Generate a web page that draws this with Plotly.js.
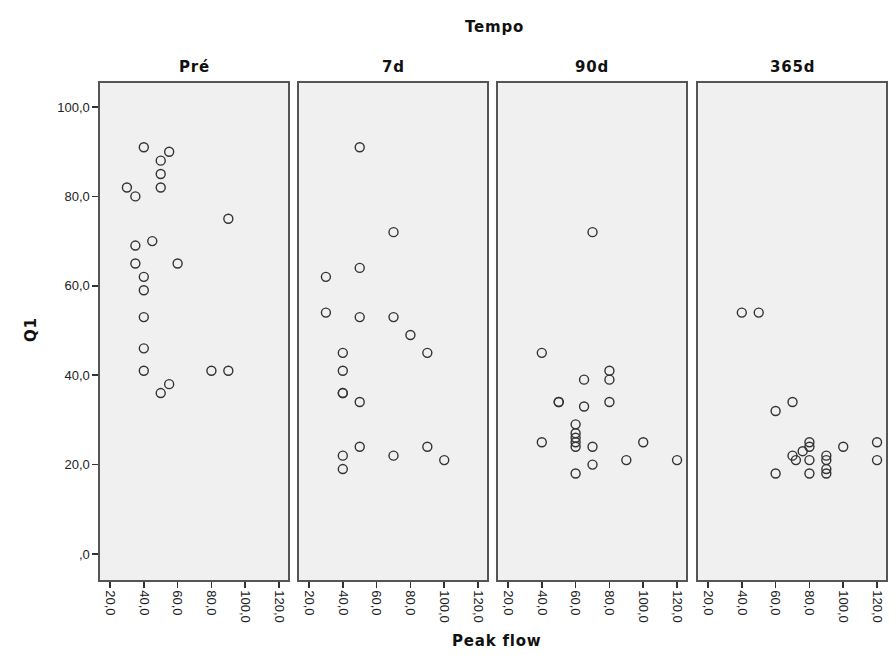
<!DOCTYPE html>
<html>
<head>
<meta charset="utf-8">
<script src="https://cdn.plot.ly/plotly-3.0.1.min.js"></script>
<style>
html,body{margin:0;padding:0;background:#fff;}
#chart{width:896px;height:655px;}
.annotation-text{letter-spacing:0.8px;}
</style>
</head>
<body>
<div id="chart"></div>
<script>
// Panel categories
var panels = ["Pré", "7d", "90d", "365d"];

// Peak flow (x) and Q1 (y) per panel
var pre_x = [40,55,50,50,50,30,35,90,45,35,35,60,40,40,40,40,40,80,90,55,50];
var pre_y = [91,90,88,85,82,82,80,75,70,69,65,65,62,59,53,46,41,41,41,38,36];

var d7_x = [50,70,50,30,30,50,70,80,40,90,40,40,40,50,50,90,40,70,100,40];
var d7_y = [91,72,64,62,54,53,53,49,45,45,41,36,36,34,24,24,22,22,21,19];

var d90_x = [70,40,80,65,80,50,50,65,80,60,60,60,60,60,40,70,100,90,120,70,60];
var d90_y = [72,45,41,39,39,34,34,33,34,29,27,26,25,24,25,24,25,21,21,20,18];

var d365_x = [40,50,70,60,80,80,80,80,76,70,72,90,90,90,90,100,120,120,60];
var d365_y = [54,54,34,32,25,24,21,18,23,22,21,22,21,19,18,24,25,21,18];

// Tick labels
var xTickVals = [20,40,60,80,100,120];
var xTickText = ["20,0","40,0","60,0","80,0","100,0","120,0"];
var yTickVals = [0,20,40,60,80,100];
var yTickText = [",0","20,0","40,0","60,0","80,0","100,0"];

var W = 896, H = 655;
var panelPx = [[100,288],[299,487],[498,686],[698,886]];
var topPx = 83, botPx = 580;

var xs = [pre_x, d7_x, d90_x, d365_x];
var ys = [pre_y, d7_y, d90_y, d365_y];

var traces = [];
for (var i = 0; i < 4; i++) {
  traces.push({
    x: xs[i], y: ys[i],
    xaxis: i === 0 ? 'x' : 'x' + (i + 1),
    yaxis: i === 0 ? 'y' : 'y' + (i + 1),
    type: 'scatter', mode: 'markers',
    marker: {symbol: 'circle-open', size: 9, color: '#333333', line: {width: 1.4}},
    hoverinfo: 'skip', showlegend: false
  });
}

var tickFont = {family: 'Liberation Sans, Arial, sans-serif', size: 13, color: '#222'};
var titleFont = {family: 'DejaVu Sans, sans-serif', size: 15, color: '#111'};
var layout = {
  width: W, height: H,
  margin: {l: 0, r: 0, t: 0, b: 0},
  paper_bgcolor: '#ffffff',
  plot_bgcolor: '#f0f0f0',
  showlegend: false,
  annotations: []
};

var yDom = [(H - botPx) / H, (H - topPx) / H];
for (var i = 0; i < 4; i++) {
  var sx = i === 0 ? '' : String(i + 1);
  layout['xaxis' + sx] = {
    domain: [panelPx[i][0] / W, panelPx[i][1] / W],
    range: [14.08, 125.3],
    anchor: 'y' + sx,
    tickvals: xTickVals, ticktext: xTickText,
    tickangle: 90,
    ticks: 'outside', ticklen: 6, tickwidth: 1.5, tickcolor: '#333',
    tickfont: tickFont,
    showgrid: false, zeroline: false,
    showline: true, mirror: true, linecolor: '#555', linewidth: 1.6,
    fixedrange: true
  };
  layout['yaxis' + sx] = {
    domain: yDom,
    range: [-5.82, 105.37],
    anchor: 'x' + sx,
    tickvals: yTickVals, ticktext: yTickText,
    showticklabels: i === 0,
    ticks: i === 0 ? 'outside' : '', ticklen: 6, tickwidth: 1.5, tickcolor: '#333',
    tickfont: tickFont,
    showgrid: false, zeroline: false,
    showline: true, mirror: true, linecolor: '#555', linewidth: 1.6,
    fixedrange: true
  };
  layout.annotations.push({
    text: '<b>' + panels[i] + '</b>',
    x: (panelPx[i][0] + panelPx[i][1]) / 2 / W, y: 1 - 67 / H,
    xref: 'paper', yref: 'paper', xanchor: 'center', yanchor: 'middle',
    showarrow: false, font: titleFont
  });
}

layout.annotations.push({
  text: '<b>Tempo</b>', x: 495 / W, y: 1 - 27 / H,
  xref: 'paper', yref: 'paper', xanchor: 'center', yanchor: 'middle',
  showarrow: false, font: titleFont
});
layout.annotations.push({
  text: '<b>Peak flow</b>', x: 497 / W, y: 1 - 641 / H,
  xref: 'paper', yref: 'paper', xanchor: 'center', yanchor: 'middle',
  showarrow: false, font: titleFont
});
layout.annotations.push({
  text: '<b>Q1</b>', x: 31 / W, y: 1 - 330 / H, textangle: -90,
  xref: 'paper', yref: 'paper', xanchor: 'center', yanchor: 'middle',
  showarrow: false, font: titleFont
});

Plotly.newPlot('chart', traces, layout, {displayModeBar: false, staticPlot: true});
</script>
</body>
</html>
